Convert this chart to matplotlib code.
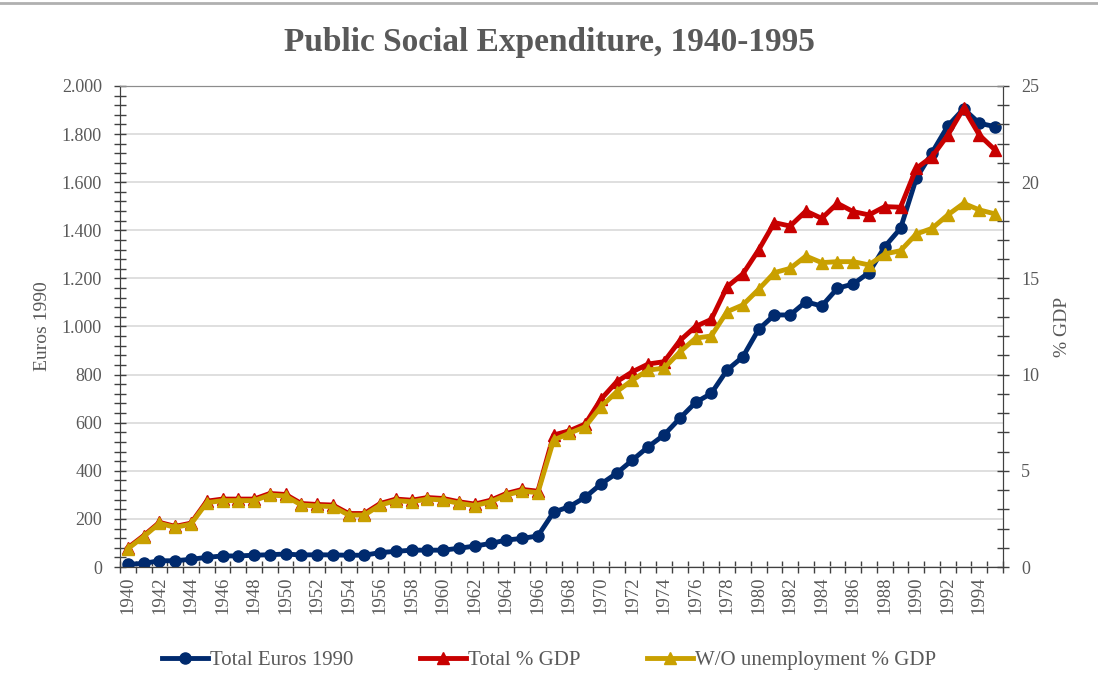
import matplotlib.pyplot as plt
from matplotlib.lines import Line2D
from matplotlib.ticker import MultipleLocator, FuncFormatter
import numpy as np

years = list(range(1940, 1996))

# Total expenditure, euros of 1990 (left axis)
total_euros = [11, 15, 26, 26, 32, 40, 46, 46, 49, 51,
               54, 50, 51, 50, 49, 49, 60, 65, 70, 70,
               70, 78, 87, 98, 112, 119, 129, 228, 251, 290,
               345, 390, 445, 500, 549, 618, 684, 722, 819, 874,
               988, 1048, 1048, 1103, 1085, 1159, 1177, 1224, 1332, 1408,
               1616, 1723, 1834, 1905, 1845, 1831]

# Total, % of GDP (right axis)
total_gdp = [1.00, 1.63, 2.32, 2.11, 2.28, 3.42, 3.53, 3.53, 3.53, 3.82,
             3.77, 3.30, 3.25, 3.22, 2.78, 2.78, 3.30, 3.53, 3.47, 3.61,
             3.56, 3.39, 3.27, 3.47, 3.82, 4.03, 3.94, 6.86, 7.08, 7.43,
             8.72, 9.63, 10.15, 10.55, 10.67, 11.76, 12.50, 12.87, 14.57, 15.23,
             16.48, 17.90, 17.72, 18.50, 18.12, 18.90, 18.47, 18.30, 18.73, 18.70,
             20.72, 21.33, 22.45, 23.84, 22.45, 21.67]

# Without unemployment, % of GDP (right axis)
wo_unemp_gdp = [0.95, 1.58, 2.27, 2.06, 2.23, 3.34, 3.45, 3.45, 3.45, 3.74,
                3.69, 3.22, 3.17, 3.14, 2.70, 2.70, 3.22, 3.45, 3.39, 3.53,
                3.48, 3.31, 3.19, 3.39, 3.74, 3.95, 3.86, 6.60, 6.95, 7.29,
                8.33, 9.11, 9.72, 10.24, 10.33, 11.17, 11.89, 12.01, 13.27, 13.62,
                14.43, 15.30, 15.52, 16.16, 15.82, 15.87, 15.87, 15.70, 16.27, 16.44,
                17.31, 17.60, 18.30, 18.90, 18.56, 18.35]

blue = "#002a6e"
red = "#c80000"
gold = "#c9a000"
grey = "#595959"
plt.rcParams['font.family'] = ['Liberation Serif', 'DejaVu Serif']

x = np.arange(len(years))

fig = plt.figure(figsize=(10.98, 6.75), dpi=100)
ax = fig.add_axes([0.1093, 0.16, 0.8042, 0.7126])
ax2 = ax.twinx()

ax.plot(x, total_euros, color=blue, lw=3.5, marker="o", ms=8, label="Total Euros 1990", zorder=3)
ax2.plot(x, total_gdp, color=red, lw=3.5, marker="^", ms=8.5, label="Total % GDP", zorder=3)
ax2.plot(x, wo_unemp_gdp, color=gold, lw=3.5, marker="^", ms=8.5, label="W/O unemployment % GDP", zorder=4)

ax.set_xlim(-0.5, len(years) - 0.5)
ax.set_ylim(0, 2000)
ax2.set_ylim(0, 25)

# left axis
ax.yaxis.set_major_locator(MultipleLocator(200))
ax.yaxis.set_minor_locator(MultipleLocator(40))
ax.yaxis.set_major_formatter(FuncFormatter(lambda v, p: f"{int(v):,}".replace(",", ".")))
ax.grid(axis="y", color="#d9d9d9", lw=1.2)
ax.set_axisbelow(True)
ax.tick_params(axis="y", which="both", direction="inout", colors="#404040", labelcolor=grey,
               labelsize=13, length=8, width=1, pad=9)
ax.set_ylabel("Euros 1990", color=grey, fontsize=14, labelpad=8)

# right axis
ax2.yaxis.set_major_locator(MultipleLocator(5))
ax2.yaxis.set_minor_locator(MultipleLocator(1))
ax2.tick_params(axis="y", which="both", direction="inout", colors="#404040", labelcolor=grey,
                labelsize=13, length=8, width=1, pad=9)
ax2.set_ylabel("% GDP", color=grey, fontsize=14, labelpad=11)

# x axis: ticks at category boundaries, labels every other year
ax.set_xticks(x[::2])
ax.set_xticklabels([str(y) for y in years[::2]], rotation=90)
ax.set_xticks(np.arange(-0.5, len(years)), minor=True)
ax.tick_params(axis="x", which="major", length=0, labelsize=13.5, labelcolor=grey, pad=7)
ax.tick_params(axis="x", which="minor", direction="inout", length=9, width=1, color="#404040")

for a in (ax, ax2):
    a.spines["left"].set_color("#404040")
    a.spines["right"].set_color("#404040")
    a.spines["bottom"].set_color("#404040")
    a.spines["top"].set_color("#8c8c8c")

fig.suptitle("Public Social Expenditure, 1940-1995", x=0.5, y=0.96, fontsize=24,
             fontweight="bold", color=grey)

h1, l1 = ax.get_legend_handles_labels()
h2, l2 = ax2.get_legend_handles_labels()
fig.legend(h1 + h2, l1 + l2, loc="center", bbox_to_anchor=(0.5, 0.022), ncol=3, frameon=False,
           fontsize=15, labelcolor=grey, handlelength=2.2, handletextpad=0.1, columnspacing=3.2)

fig.add_artist(Line2D([0, 1], [0.995, 0.995], color="#b0b0b0", lw=2, transform=fig.transFigure))

fig.savefig("out.png", dpi=100)
